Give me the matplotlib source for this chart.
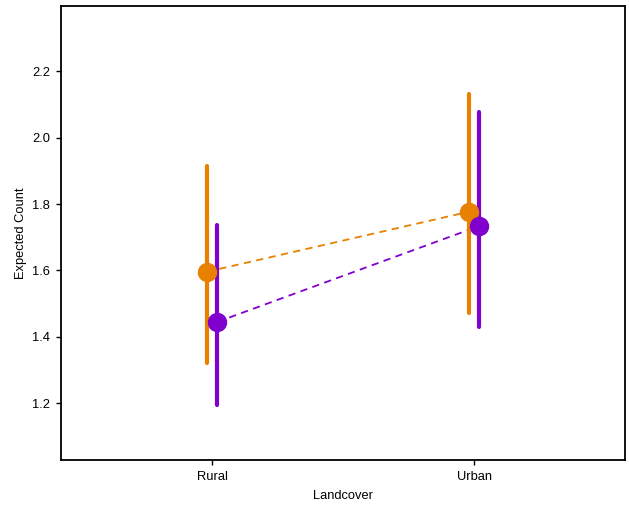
import matplotlib
matplotlib.use("Agg")
import matplotlib.pyplot as plt
import numpy as np

plt.rcParams['font.family'] = ['Liberation Sans', 'DejaVu Sans']

categories = ["Rural", "Urban"]
orange_mean = [1.596, 1.777]
orange_low = [1.321, 1.471]
orange_high = [1.915, 2.132]
purple_mean = [1.445, 1.734]
purple_low = [1.195, 1.431]
purple_high = [1.737, 2.077]

orange = "#E88000"
purple = "#8000CE"
dodge = 0.02

fig = plt.figure(figsize=(6.29, 5.07), dpi=100)
ax = fig.add_axes([0.097, 0.093, 0.897, 0.895])

x = np.arange(1, len(categories) + 1)
for xs, m, lo, hi, col in [(x - dodge, orange_mean, orange_low, orange_high, orange),
                           (x + dodge, purple_mean, purple_low, purple_high, purple)]:
    m = np.array(m)
    ax.plot(xs, m, linestyle=(0, (4, 3)), color=col, lw=1.3, zorder=2)
    ax.vlines(xs, lo, hi, color=col, lw=3, capstyle='round', zorder=3)
    ax.plot(xs, m, 'o', color=col, markersize=13, zorder=4)

ax.set_xlim(0.423, 2.577)
ax.set_ylim(1.029, 2.397)
ax.set_xticks(x)
ax.set_xticklabels(categories)
ax.set_yticks([1.2, 1.4, 1.6, 1.8, 2.0, 2.2])
ax.tick_params(direction='out', length=3.5, width=1, labelsize=9.3, colors='black', pad=4.5)
ax.set_xlabel("Landcover", fontsize=9.3, labelpad=5)
ax.set_ylabel("Expected Count", fontsize=9.3, labelpad=3.5)
for s in ax.spines.values():
    s.set_linewidth(1.3)

fig.savefig("out.png", dpi=100)
